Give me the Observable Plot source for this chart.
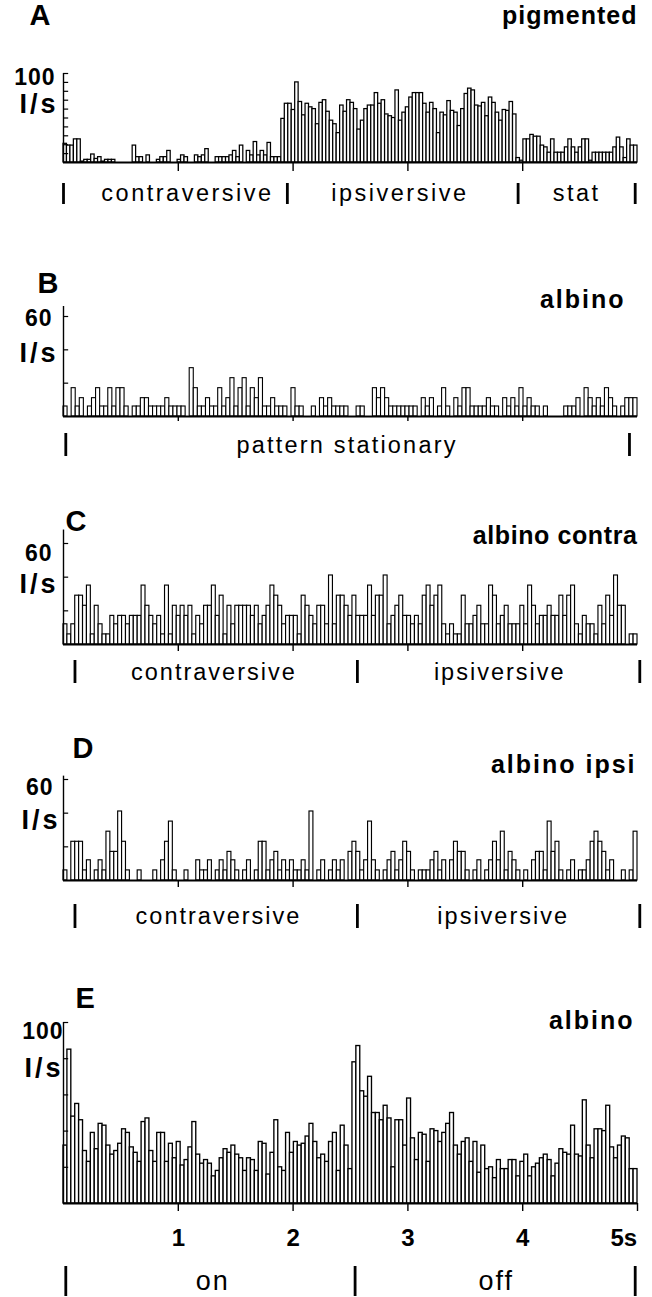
<!DOCTYPE html>
<html><head><meta charset="utf-8">
<script src="https://cdn.jsdelivr.net/npm/d3@7"></script>
<script src="https://cdn.jsdelivr.net/npm/@observablehq/plot@0.6"></script>
<style>
body{margin:0;background:#fff;}
#fig{position:relative;width:652px;height:1297px;background:#fff;overflow:hidden;}
#fig svg{position:absolute;left:0;}
</style></head><body><div id="fig"></div>
<script>
// ---------- data (impulses per second per bin) ----------
const ratesA = [21,19,19,26,26,1,3,3,9,4,6,1,3,3,3,0,0,0,0,0,19,6,6,0,8,0,0,3,6,6,13,0,0,3,8,6,0,0,8,6,8,15,0,0,6,6,6,6,8,13,6,19,0,13,8,23,8,13,8,22,6,6,6,49,66,66,59,90,68,53,66,62,
 60,43,67,70,57,47,43,33,64,57,70,67,60,37,47,60,64,64,78,66,70,54,52,50,81,47,56,62,73,78,78,78,66,56,67,60,33,56,53,69,58,56,41,60,77,83,81,64,63,67,52,73,67,56,47,59,58,68,54,
 5,2,26,26,31,29,29,19,17,11,26,11,11,11,17,26,17,11,17,26,26,2,11,11,11,11,11,11,17,28,17,5,26,19,19];
const ratesB = [6,0,17,6,11,0,6,11,17,6,6,17,6,17,17,6,0,6,6,11,11,6,6,6,6,11,6,6,6,6,0,29,17,6,6,11,6,6,17,6,11,23,6,17,23,6,17,11,23,6,6,11,6,6,6,0,17,6,6,0,0,6,0,11,6,
 11,6,6,6,6,0,0,6,6,0,0,17,11,17,11,6,6,6,6,6,6,6,0,11,6,11,0,6,17,6,0,11,6,17,17,6,6,6,6,11,6,6,0,11,6,11,6,17,6,11,6,6,0,6,0,0,0,0,6,6,6,11,0,17,11,6,11,6,17,11,6,0,6,11,11,11];
const ratesC = [12,6,12,29,29,23,35,6,23,12,6,6,17,12,17,17,12,17,17,17,35,23,17,12,17,6,35,6,23,17,23,17,23,6,17,12,23,23,35,17,29,6,23,12,23,23,23,23,17,23,12,17,23,35,29,23,12,17,17,17,6,29,23,17,12,23,
 23,12,41,12,29,29,23,17,29,17,17,17,35,17,29,29,41,12,17,23,29,17,17,12,17,12,29,35,23,29,35,12,6,12,6,6,29,12,12,17,23,12,12,35,29,12,17,23,12,12,12,23,12,35,23,12,17,17,23,17,17,29,17,29,35,12,6,17,12,12,6,23,12,29,17,41,23,23,0,6,6];
const ratesD = [6,0,23,23,23,6,12,0,6,12,6,29,17,17,41,23,6,0,0,6,0,0,0,6,0,12,23,35,6,0,0,6,0,0,12,6,6,12,0,6,12,6,17,12,6,0,6,12,0,6,23,23,6,12,17,6,12,6,12,6,6,12,6,41,0,6,12,0,6,12,6,12,0,
 17,23,17,6,12,35,12,6,0,6,12,17,6,12,23,17,6,0,6,6,6,12,17,6,12,0,12,23,17,17,6,0,6,12,0,6,12,23,12,29,6,17,12,6,0,6,0,12,17,17,6,35,17,23,6,0,6,12,0,6,6,12,23,29,23,17,6,12,0,0,6,0,6,29];
const ratesE = [32,85,48,55,46,29,23,39,30,44,43,32,27,29,33,41,39,31,28,23,45,47,29,23,39,39,23,33,25,34,21,24,31,45,27,22,24,22,15,18,25,30,28,32,27,25,18,25,24,18,34,33,16,28,46,20,18,39,28,34,32,33,37,44,34,25,
 27,23,34,39,18,43,32,19,78,87,62,59,70,50,50,46,54,47,20,46,46,32,58,36,24,39,38,23,41,40,34,39,44,50,32,27,34,36,23,34,17,32,19,20,14,24,19,19,24,24,15,23,27,15,20,22,25,27,24,15,22,30,28,27,43,27,26,57,32,25,41,41,40,54,31,25,32,37,36,19,19];

// segment boundaries (s) and labels (s)
const markersA = [0, 1.95, 3.96, 4.98];
const segmentsA = [{label:"contraversive", at:1.08}, {label:"ipsiversive", at:2.93}, {label:"stat", at:4.47}];
const markersB = [0.02, 4.93];
const segmentsB = [{label:"pattern stationary", at:2.47}];
const markersC = [0.10, 2.56, 5.02];
const segmentsC = [{label:"contraversive", at:1.31}, {label:"ipsiversive", at:3.80}];
const markersD = [0.10, 2.56, 5.02];
const segmentsD = [{label:"contraversive", at:1.35}, {label:"ipsiversive", at:3.83}];
const markersE = [0.02, 2.54, 4.98];
const segmentsE = [{label:"on", at:1.30}, {label:"off", at:3.77}];
const timeTicks = [1, 2, 3, 4];
const timeTicksE = [1, 2, 3, 4, 5];
const timeLabelsE = [{t:1, s:"1"}, {t:2, s:"2"}, {t:3, s:"3"}, {t:4, s:"4"}, {t:4.88, s:"5s"}];

// ---------- drawing ----------
const FONT = "'Liberation Sans', Arial, Helvetica, sans-serif";
const X0 = 63, X1 = 637;             // page px of 0 s and 5 s
const PXS = (X1 - X0) / 5;
const sx = px => (px - X0) / PXS;

function panel(cfg) {
  const ppu = (cfg.basePx - cfg.yTopPx) / cfg.yMax;
  const py = p => (cfg.basePx - p) / ppu;
  const n = cfg.values.length, w = 5 / n;
  const bars = cfg.values.map((v, i) => ({x1: i * w, x2: (i + 1) * w, v}));
  const lab = (txt, px, pyv, o) => Plot.text([txt], {x: () => sx(px), y: () => py(pyv), text: d => d, fill: "black", ...o});
  const marks = [
    Plot.rectY(bars, {x1: "x1", x2: "x2", y: "v", fill: "white", stroke: "black", strokeWidth: cfg.barStroke}),
    Plot.ruleY([0], {stroke: "black", strokeWidth: 1.8}),
    Plot.ruleX([0], {y1: 0, y2: cfg.axisTop, stroke: "black", strokeWidth: 1.4}),
    Plot.ruleY(cfg.yTicks, {y: d => d, x1: 0, x2: 0.045, stroke: "black", strokeWidth: 1.2}),
    Plot.ruleX(cfg.xTicks, {x: d => d, y1: 0, y2: -cfg.tickLen / ppu, stroke: "black", strokeWidth: 1.4}),
    Plot.ruleX(cfg.markers, {x: d => d, y1: () => py(cfg.markTop), y2: () => py(cfg.markBottom), stroke: "black", strokeWidth: 2.8}),
    Plot.text(cfg.segments, {x: "at", y: () => py(cfg.segY), text: "label", fontSize: cfg.segSize, fill: "black"}),
    lab(cfg.letter, cfg.letterX, cfg.letterY, {fontSize: 29, fontWeight: "bold", textAnchor: "start"}),
    lab(cfg.title, cfg.titleX, cfg.titleY, {fontSize: cfg.titleSize, fontWeight: "bold", textAnchor: "end"}),
    lab(cfg.maxLabel, cfg.maxX, cfg.maxY, {fontSize: 23, fontWeight: "bold", textAnchor: "end"}),
    lab("I/s", cfg.unitX, cfg.unitY, {fontSize: 27, fontWeight: "bold", textAnchor: "end"})
  ];
  if (cfg.timeLabels) marks.push(Plot.text(cfg.timeLabels, {x: "t", y: () => py(cfg.timeY), text: "s", fontSize: 24, fontWeight: "bold", fill: "black"}));
  const svg = Plot.plot({
    width: 652, height: cfg.bottom - cfg.top,
    marginLeft: X0, marginRight: 652 - X1,
    marginTop: cfg.yTopPx - cfg.top, marginBottom: cfg.bottom - cfg.basePx,
    x: {domain: [0, 5], axis: null},
    y: {domain: [0, cfg.yMax], axis: null},
    style: {fontFamily: FONT, background: "transparent", color: "black"},
    marks
  });
  svg.style.top = cfg.top + "px";
  const segSet = new Set(cfg.segments.map(d => d.label));
  d3.select(svg).selectAll("text").each(function () {
    const t = this.textContent;
    if (segSet.has(t)) this.style.letterSpacing = cfg.segSpacing + "px";
    else if (t === cfg.title) this.style.letterSpacing = cfg.titleSpacing + "px";
    else if (t === "I/s") this.style.letterSpacing = "3px";
    else if (t === cfg.maxLabel) this.style.letterSpacing = "1px";
  });
  document.getElementById("fig").appendChild(svg);
}

panel({values: ratesA, top: 0, bottom: 215, yTopPx: 73, basePx: 162, yMax: 100, axisTop: 100, barStroke: 1.25,
  yTicks: d3.range(10, 101, 10), xTicks: timeTicks, tickLen: 9,
  markers: markersA, markTop: 183, markBottom: 204, segments: segmentsA, segY: 193, segSize: 23.5, segSpacing: 2.5,
  letter: "A", letterX: 29, letterY: 15, title: "pigmented", titleX: 637, titleY: 15, titleSize: 25, titleSpacing: 1,
  maxLabel: "100", maxX: 55, maxY: 77, unitX: 58, unitY: 104});

panel({values: ratesB, top: 250, bottom: 470, yTopPx: 316, basePx: 416, yMax: 60, axisTop: 66, barStroke: 1.1,
  yTicks: [20, 40, 60], xTicks: timeTicks, tickLen: 5,
  markers: markersB, markTop: 433, markBottom: 456, segments: segmentsB, segY: 445, segSize: 23.5, segSpacing: 2.2,
  letter: "B", letterX: 37, letterY: 283, title: "albino", titleX: 625, titleY: 299, titleSize: 25, titleSpacing: 2,
  maxLabel: "60", maxX: 52, maxY: 318, unitX: 58, unitY: 353});

panel({values: ratesC, top: 490, bottom: 700, yTopPx: 543, basePx: 644, yMax: 60, axisTop: 68, barStroke: 1.15,
  yTicks: [20, 40, 60], xTicks: timeTicks, tickLen: 7,
  markers: markersC, markTop: 660, markBottom: 683, segments: segmentsC, segY: 672, segSize: 23.5, segSpacing: 2,
  letter: "C", letterX: 65, letterY: 521, title: "albino contra", titleX: 637, titleY: 535, titleSize: 25, titleSpacing: 0.6,
  maxLabel: "60", maxX: 52, maxY: 553, unitX: 58, unitY: 584});

panel({values: ratesD, top: 720, bottom: 945, yTopPx: 779, basePx: 880, yMax: 60, axisTop: 62, barStroke: 1.15,
  yTicks: [20, 40, 60], xTicks: timeTicks, tickLen: 7,
  markers: markersD, markTop: 904, markBottom: 928, segments: segmentsD, segY: 916, segSize: 23.5, segSpacing: 2,
  letter: "D", letterX: 72, letterY: 748, title: "albino ipsi", titleX: 636, titleY: 764, titleSize: 25, titleSpacing: 2,
  maxLabel: "60", maxX: 53, maxY: 787, unitX: 60, unitY: 820});

panel({values: ratesE, top: 970, bottom: 1297, yTopPx: 1022, basePx: 1203, yMax: 100, axisTop: 100, barStroke: 1.35,
  yTicks: [20, 40, 60, 80, 100], xTicks: timeTicksE, tickLen: 8,
  markers: markersE, markTop: 1266, markBottom: 1296, segments: segmentsE, segY: 1281, segSize: 27, segSpacing: 2,
  timeLabels: timeLabelsE, timeY: 1238,
  letter: "E", letterX: 75, letterY: 998, title: "albino", titleX: 634, titleY: 1020, titleSize: 25, titleSpacing: 2,
  maxLabel: "100", maxX: 63, maxY: 1031, unitX: 63, unitY: 1068});
</script></body></html>
